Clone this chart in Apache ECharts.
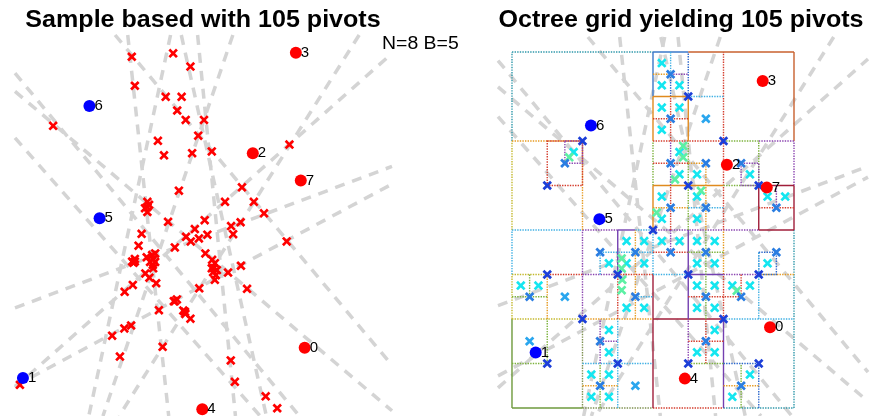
<!DOCTYPE html>
<html>
<head>
<meta charset="utf-8">
<script src="https://cdn.jsdelivr.net/npm/echarts@6/dist/echarts.min.js"></script>
<style>
  html, body { margin: 0; padding: 0; background: #fff; }
  #chart { width: 870px; height: 416px; }
</style>
</head>
<body>
<div id="chart"></div>
<script>
// ---- data (unit square scaled to 0..100 = octree root cell) ----
const titles = ['Sample based with 105 pivots', 'Octree grid yielding 105 pivots'];
const paramText = 'N=8 B=5';

// the eight query points and their class (1 = blue)
const pointLabels = ['0', '1', '2', '3', '4', '5', '6', '7'];
const pointX = [91.5, 8.4, 76.2, 88.9, 61.3, 31.0, 28.0, 90.35];
const pointY = [22.7, 15.6, 68.3, 91.85, 8.25, 53.05, 79.35, 61.9];
const pointClass = [0, 1, 0, 0, 0, 1, 1, 0];

// sampled pivots (left panel)
const samplePivots = [
  [40.5, 90.9], [52.7, 91.7], [57.8, 88.6], [41.4, 84.1], [50.5, 81.5], [55.2, 81.5], [53.9, 78.3], [56.4, 76.1],
  [61.8, 76.1], [17.3, 74.7], [60.1, 72.4], [48.2, 71.2], [50.0, 67.8], [58.3, 68.3], [64.1, 68.7], [87.0, 70.3],
  [54.4, 59.5], [73.0, 60.3], [45.1, 56.9], [68.0, 56.9], [76.5, 56.9], [45.1, 55.7], [45.1, 54.5], [79.5, 54.2],
  [51.2, 52.2], [62.0, 52.6], [59.1, 50.5], [69.8, 51.2], [72.6, 52.1], [70.4, 49.3], [43.4, 49.4], [42.5, 46.6],
  [56.5, 48.7], [57.9, 47.6], [60.3, 48.3], [62.8, 49.2], [86.2, 47.6], [53.2, 46.2], [47.4, 44.8], [44.9, 43.9],
  [46.8, 43.4], [41.4, 42.9], [40.6, 42.9], [46.7, 42.1], [46.8, 41.3], [62.2, 44.8], [64.2, 43.3], [65.0, 42.5],
  [64.1, 41.3], [65.3, 39.7], [65.0, 38.6], [68.9, 40.3], [72.7, 41.9], [44.5, 40.1], [45.7, 39.1], [47.7, 37.8],
  [40.8, 37.4], [38.4, 35.8], [60.4, 36.6], [74.5, 36.5], [52.9, 33.6], [53.8, 34.0], [48.5, 31.5], [55.7, 31.4],
  [56.3, 30.6], [57.8, 29.5], [40.3, 27.9], [38.3, 27.2], [34.7, 25.5], [49.6, 22.9], [37.0, 20.6], [69.7, 19.7],
  [70.9, 14.7], [80.0, 11.3], [83.4, 8.5], [7.5, 14.0], [45.6, 56.2], [44.4, 55.4], [41.0, 42.6], [41.4, 43.5],
  [47.4, 42.8], [45.9, 42.8], [64.7, 41.4], [65.6, 40.9], [64.5, 40.4], [46.5, 44.4], [56.2, 31.1], [53.2, 33.6]
];

// octree pivots (right panel): leaf centres, coarse centres, jittered pivots, cell corners
const cellCenters = [
  [53.125, 96.875], [53.125, 90.625], [59.375, 90.625], [53.125, 84.375], [59.375, 84.375], [53.125, 78.125],
  [59.375, 71.875], [65.625, 65.625], [59.375, 65.625], [84.375, 65.625], [65.625, 59.375], [53.125, 59.375],
  [90.625, 59.375], [96.875, 59.375], [65.625, 53.125], [53.125, 53.125], [21.875, 71.875],
  [40.625, 46.875], [46.875, 46.875], [53.125, 46.875], [59.375, 46.875], [65.625, 46.875], [71.875, 46.875],
  [34.375, 40.625], [40.625, 40.625], [46.875, 40.625], [65.625, 40.625], [71.875, 40.625], [90.625, 40.625],
  [3.125, 34.375], [9.375, 34.375], [65.625, 34.375], [71.875, 34.375], [78.125, 34.375], [84.375, 34.375],
  [40.625, 28.125], [46.875, 28.125], [65.625, 28.125], [71.875, 28.125], [34.375, 21.875], [71.875, 21.875],
  [34.375, 15.625], [65.625, 15.625], [71.875, 15.625], [28.125, 9.375], [34.375, 9.375], [84.375, 9.375],
  [28.125, 3.125], [34.375, 3.125], [78.125, 3.125]
];
const coarseCenters = [[68.75, 81.25], [18.75, 31.25], [43.75, 6.25], [6.25, 18.75]];
const jitterPivots = [
  [60.7, 73.6], [60.7, 70.4], [57.8, 64.2], [67.0, 61.0], [20.3, 70.4], [51.3, 54.9],
  [38.9, 42.0], [38.9, 39.2], [39.1, 36.0], [38.9, 33.1], [79.7, 32.9]
];
const cornerPivotsMajor = [
  [25, 75], [12.5, 62.5], [75, 75], [62.5, 87.5], [62.5, 62.5], [87.5, 62.5], [50, 50], [37.5, 37.5], [12.5, 37.5],
  [62.5, 37.5], [87.5, 37.5], [25, 25], [75, 25], [12.5, 12.5], [37.5, 12.5], [62.5, 12.5], [87.5, 12.5]
];
const cornerPivotsMinor = [
  [56.25, 93.75], [56.25, 81.25], [18.75, 68.75], [56.25, 68.75], [68.75, 68.75], [81.25, 68.75], [56.25, 56.25],
  [68.75, 56.25], [93.75, 56.25], [31.25, 43.75], [43.75, 43.75], [56.25, 43.75], [68.75, 43.75], [93.75, 43.75],
  [6.25, 31.25], [43.75, 31.25], [68.75, 31.25], [81.25, 31.25], [31.25, 18.75], [68.75, 18.75], [31.25, 6.25],
  [81.25, 6.25]
];

// projection lines, each given by two points it passes through
const guideLines = [
  [36.1, 95.5, 116.7, 19.1], [6.6, 82.4, 114.6, 9.7], [6.0, 87.1, 87.2, 9.3], [6.6, 71.4, 76.8, 8.1],
  [39.4, 95.3, 51.2, 8.1], [6.6, 32.2, 114.6, 64.4], [10.5, 15.6, 116.7, 60.8], [9.9, 16.1, 116.7, 91.3],
  [106.3, 94.4, 37.9, 8.1], [51.8, 95.5, 28.2, 8.1], [55.3, 95.3, 79.8, 8.1], [60.0, 95.3, 70.9, 8.1],
  [69.5, 94.1, 32.6, 8.1]
];

// octree cell edges: x0, y0, x1, y1, octant group (segment when degenerate, box otherwise)
const octreeEdges = [
  [0, 100, 50, 100, 0], [50, 100, 62.5, 100, 2], [62.5, 100, 100, 100, 9],
  [100, 100, 100, 75, 9], [100, 75, 100, 62.5, 7], [100, 62.5, 100, 50, 6], [100, 50, 100, 0, 0],
  [0, 0, 25, 0, 12], [25, 0, 50, 0, 13], [50, 0, 75, 0, 5], [75, 0, 100, 0, 0],
  [0, 100, 0, 75, 0], [0, 75, 0, 50, 4], [0, 50, 0, 37.5, 1], [0, 37.5, 0, 25, 4], [0, 25, 0, 0, 12],
  [50, 100, 50, 87.5, 2], [50, 87.5, 50, 75, 10], [50, 75, 50, 62.5, 8], [50, 62.5, 50, 50, 10],
  [50, 50, 50, 37.5, 1], [50, 37.5, 50, 0, 6],
  [0, 50, 25, 50, 1], [25, 50, 37.5, 50, 7], [37.5, 50, 43.75, 50, 11], [43.75, 50, 50, 50, 1],
  [50, 50, 87.5, 50, 7], [87.5, 50, 100, 50, 6],
  [25, 75, 25, 50, 3], [25, 50, 25, 25, 7], [25, 25, 25, 0, 13],
  [0, 75, 25, 75, 3], [50, 75, 75, 75, 5], [75, 75, 87.5, 75, 8], [87.5, 75, 100, 75, 7],
  [75, 100, 75, 75, 5], [75, 75, 75, 50, 5], [75, 50, 75, 37.5, 3], [75, 37.5, 75, 25, 5], [75, 25, 75, 0, 11],
  [0, 25, 25, 25, 4], [25, 25, 50, 25, 3], [50, 25, 75, 25, 6], [75, 25, 100, 25, 1],
  [12.5, 62.5, 25, 75, 5], [18.75, 68.75, 25, 75, 7],
  [62.5, 100, 62.5, 87.5, 14], [56.25, 100, 56.25, 93.75, 1], [50, 93.75, 56.25, 93.75, 3],
  [56.25, 93.75, 62.5, 93.75, 7], [56.25, 93.75, 56.25, 87.5, 14],
  [50, 87.5, 62.5, 87.5, 10], [62.5, 87.5, 75, 87.5, 1], [62.5, 87.5, 62.5, 75, 10],
  [56.25, 87.5, 56.25, 75, 5], [50, 81.25, 62.5, 81.25, 5],
  [50, 62.5, 75, 62.5, 10], [62.5, 75, 62.5, 50, 8], [50, 68.75, 62.5, 68.75, 5], [56.25, 75, 56.25, 62.5, 7],
  [56.25, 62.5, 56.25, 50, 5], [50, 56.25, 62.5, 56.25, 3], [68.75, 68.75, 68.75, 50, 3],
  [62.5, 68.75, 68.75, 68.75, 3], [62.5, 56.25, 75, 56.25, 1],
  [87.5, 75, 87.5, 62.5, 8], [75, 62.5, 87.5, 62.5, 8], [81.25, 62.5, 87.5, 68.75, 7],
  [87.5, 62.5, 100, 62.5, 6], [87.5, 62.5, 87.5, 50, 6], [93.75, 62.5, 93.75, 56.25, 7], [87.5, 56.25, 100, 56.25, 5],
  [0, 37.5, 12.5, 37.5, 4], [12.5, 37.5, 25, 37.5, 5], [12.5, 37.5, 12.5, 25, 3], [6.25, 37.5, 6.25, 31.25, 8],
  [0, 31.25, 12.5, 31.25, 8], [12.5, 25, 12.5, 12.5, 8], [0, 12.5, 12.5, 12.5, 8],
  [25, 37.5, 37.5, 37.5, 7], [37.5, 37.5, 50, 37.5, 5], [37.5, 50, 37.5, 37.5, 11], [43.75, 50, 43.75, 25, 3],
  [31.25, 43.75, 50, 43.75, 1], [31.25, 43.75, 31.25, 37.5, 1], [37.5, 37.5, 37.5, 25, 5], [43.75, 31.25, 50, 31.25, 1],
  [37.5, 25, 37.5, 0, 1], [25, 12.5, 50, 12.5, 1], [31.25, 25, 31.25, 12.5, 7], [31.25, 18.75, 37.5, 18.75, 7],
  [31.25, 12.5, 31.25, 0, 8], [25, 6.25, 37.5, 6.25, 3],
  [50, 37.5, 62.5, 37.5, 1], [62.5, 37.5, 75, 37.5, 11], [75, 37.5, 87.5, 37.5, 7], [87.5, 37.5, 100, 37.5, 3],
  [56.25, 50, 56.25, 43.75, 7], [50, 43.75, 62.5, 43.75, 5], [62.5, 50, 62.5, 25, 11], [68.75, 50, 68.75, 25, 8],
  [62.5, 43.75, 75, 43.75, 8], [62.5, 31.25, 81.25, 31.25, 5], [81.25, 37.5, 81.25, 31.25, 5],
  [87.5, 37.5, 93.75, 43.75, 14], [87.5, 43.75, 87.5, 25, 1],
  [62.5, 25, 62.5, 12.5, 7], [62.5, 18.75, 75, 18.75, 5], [68.75, 25, 68.75, 12.5, 5], [62.5, 12.5, 75, 12.5, 8],
  [75, 12.5, 87.5, 12.5, 14], [87.5, 12.5, 87.5, 0, 14], [81.25, 12.5, 81.25, 0, 8], [75, 6.25, 87.5, 6.25, 3]
];

// ---- styling ----
const edgeColors = ['#2f98aa', '#3fb0e4', '#3b78c8', '#e69a20', '#c4b82c', '#d43c2c', '#a01e3a',
  '#8a44b0', '#7cb23c', '#c8602e', '#e08a1e', '#7440b0', '#6e9a3c', '#7e9050', '#2a66cc'];
const solidGroups = new Set([2, 6, 9, 10, 11, 12]);
const X_MARK = 'path://M0,2L2,0L5,3L8,0L10,2L7,5L10,8L8,10L5,7L2,10L0,8L3,5Z';
const FONT = '"Liberation Sans", Arial, Helvetica, sans-serif';

// clip the infinite line through p and q to a rectangle (Liang-Barsky)
function clipLine(p, q, r) {
  const dx = q[0] - p[0], dy = q[1] - p[1];
  let t0 = -1e9, t1 = 1e9;
  const bounds = [[-dx, p[0] - r.x], [dx, r.x + r.width - p[0]], [-dy, p[1] - r.y], [dy, r.y + r.height - p[1]]];
  for (const [pk, qk] of bounds) {
    if (pk === 0) { if (qk < 0) return null; continue; }
    const t = qk / pk;
    if (pk < 0) { if (t > t0) t0 = t; } else { if (t < t1) t1 = t; }
  }
  if (t0 > t1) return null;
  return [p[0] + t0 * dx, p[1] + t0 * dy, p[0] + t1 * dx, p[1] + t1 * dy];
}

function guideSeries(gi) {
  return {
    type: 'custom', xAxisIndex: gi, yAxisIndex: gi, data: guideLines, silent: true, z: 1,
    renderItem(params, api) {
      const p = api.coord([api.value(0), api.value(1)]);
      const q = api.coord([api.value(2), api.value(3)]);
      const s = clipLine(p, q, params.coordSys);
      if (!s) return;
      return {
        type: 'line', shape: { x1: s[0], y1: s[1], x2: s[2], y2: s[3] },
        style: { stroke: '#d4d4d4', lineWidth: 3.5, lineDash: [10, 8], fill: null }
      };
    }
  };
}

function pointSeries(gi) {
  return {
    type: 'scatter', xAxisIndex: gi, yAxisIndex: gi, silent: true, z: 5,
    symbol: 'circle', symbolSize: 12,
    data: pointX.map((x, i) => ({
      value: [x, pointY[i]],
      itemStyle: { color: pointClass[i] ? '#0000ff' : '#ff0000', opacity: 1 }
    })),
    label: {
      show: true, position: 'right', distance: -1, color: '#000',
      fontSize: 15, fontFamily: FONT, formatter: p => pointLabels[p.dataIndex]
    }
  };
}

function markSeries(data, color, size, z) {
  return {
    type: 'scatter', xAxisIndex: 1, yAxisIndex: 1, silent: true, z: z,
    symbol: X_MARK, symbolSize: size, itemStyle: { color: color, opacity: 1 }, data: data
  };
}

const chart = echarts.init(document.getElementById('chart'), null, { renderer: 'canvas' });
chart.setOption({
  animation: false,
  backgroundColor: '#fff',
  grid: [
    { left: 15, top: 35, width: 377, height: 381 },
    { left: 498, top: 37, width: 370, height: 379 }
  ],
  xAxis: [
    { gridIndex: 0, type: 'value', min: 6.05, max: 117.26, show: false },
    { gridIndex: 1, type: 'value', min: -4.96, max: 126.24, show: false }
  ],
  yAxis: [
    { gridIndex: 0, type: 'value', min: 6.68, max: 96.0, show: false },
    { gridIndex: 1, type: 'value', min: -2.25, max: 104.21, show: false }
  ],
  graphic: [
    { type: 'text', x: 203, y: 21, scaleX: 1.09, silent: true,
      style: { text: titles[0], font: 'bold 23px ' + FONT, fill: '#000',
        textAlign: 'center', align: 'center', textVerticalAlign: 'middle', verticalAlign: 'middle' } },
    { type: 'text', x: 681, y: 21, scaleX: 1.09, silent: true,
      style: { text: titles[1], font: 'bold 23px ' + FONT, fill: '#000',
        textAlign: 'center', align: 'center', textVerticalAlign: 'middle', verticalAlign: 'middle' } },
    { type: 'text', x: 382, y: 44, scaleX: 1.08, silent: true,
      style: { text: paramText, font: '18px ' + FONT, fill: '#000',
        textAlign: 'left', align: 'left', textVerticalAlign: 'middle', verticalAlign: 'middle' } }
  ],
  series: [
    guideSeries(0),
    guideSeries(1),
    {
      type: 'custom', xAxisIndex: 1, yAxisIndex: 1, data: octreeEdges, silent: true, z: 2,
      renderItem(params, api) {
        const x0 = api.value(0), y0 = api.value(1), x1 = api.value(2), y1 = api.value(3), g = api.value(4);
        const a = api.coord([x0, y1]), b = api.coord([x1, y0]);
        const solid = solidGroups.has(g);
        const style = { stroke: edgeColors[g], lineWidth: solid ? 1.4 : 1.4,
          lineDash: solid ? 'solid' : [1.4, 1.2], fill: null };
        if (x0 === x1 || y0 === y1) {
          return { type: 'line', shape: { x1: a[0], y1: a[1], x2: b[0], y2: b[1] }, style: style };
        }
        return { type: 'rect', shape: { x: a[0], y: a[1], width: b[0] - a[0], height: b[1] - a[1] }, style: style };
      }
    },
    {
      type: 'scatter', xAxisIndex: 0, yAxisIndex: 0, silent: true, z: 3,
      symbol: X_MARK, symbolSize: 9.5, itemStyle: { color: '#ff0000', opacity: 1 }, data: samplePivots
    },
    markSeries(cellCenters, '#14e6f0', 9.5, 3),
    markSeries(coarseCenters, '#2aa6ee', 9.5, 3),
    markSeries(jitterPivots, '#5cf0a4', 9.5, 4),
    markSeries(cornerPivotsMinor, '#2a7de1', 9.5, 4),
    markSeries(cornerPivotsMajor, '#1c3fd8', 9.5, 4),
    pointSeries(0),
    pointSeries(1)
  ]
});
</script>
</body>
</html>
